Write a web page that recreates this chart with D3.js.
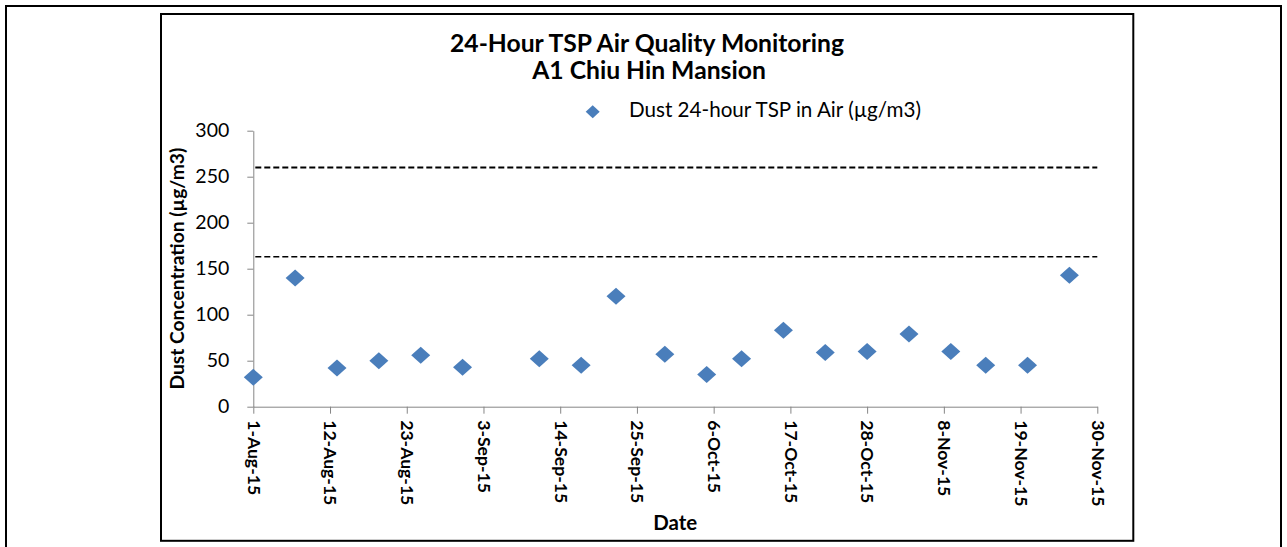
<!DOCTYPE html>
<html><head><meta charset="utf-8">
<script src="https://cdn.jsdelivr.net/npm/d3@7"></script>
<style>
body{margin:0;background:#fff}
svg{display:block}
text{font-family:Lato,"Open Sans",sans-serif;fill:#000}
</style>
</head><body>
<svg id="chart" width="1287" height="547"></svg>
<script>
// ---- data ----
const sampleDates = ["2015-08-01","2015-08-07","2015-08-13","2015-08-19","2015-08-25","2015-08-31",
  "2015-09-11","2015-09-17","2015-09-22","2015-09-29","2015-10-05","2015-10-10","2015-10-16",
  "2015-10-22","2015-10-28","2015-11-03","2015-11-09","2015-11-14","2015-11-20","2015-11-26"];
const tspValues = [32,140,42,50,56,43,52,45,120,57,35,52,83,59,60,79,60,45,45,143];
const xTickDates = ["2015-08-01","2015-08-12","2015-08-23","2015-09-03","2015-09-14","2015-09-25",
  "2015-10-06","2015-10-17","2015-10-28","2015-11-08","2015-11-19","2015-11-30"];
const yTickValues = [0,50,100,150,200,250,300];
const limitLevels = [260,163];
const titleLines = ["24-Hour TSP Air Quality Monitoring","A1 Chiu Hin Mansion"];
const seriesName = "Dust 24-hour TSP in Air (µg/m3)";
const xTitle = "Date";
const yTitle = "Dust Concentration (µg/m3)";

// ---- layout ----
const parse = d3.utcParse("%Y-%m-%d");
const svg = d3.select("#chart");
const plot = {left:253.3, right:1097.3, top:130.7, bottom:406.7};
const blue = "#4A7EBB";
const axisGrey = "#868686";

function fit(sel, target, base){
  sel.style("font-size", base+"px");
  const w = sel.node().getComputedTextLength();
  const s = base*target/w;
  sel.style("font-size", s+"px");
  return s;
}

// borders
svg.append("rect").attr("x",6).attr("y",6).attr("width",1275).attr("height",560)
  .attr("fill","none").attr("stroke","#000").attr("stroke-width",2);
svg.append("rect").attr("x",161).attr("y",14).attr("width",972.3).attr("height",526.8)
  .attr("fill","#fff").attr("stroke","#000").attr("stroke-width",2);

const x = d3.scaleUtc().domain([parse(xTickDates[0]), parse(xTickDates[xTickDates.length-1])])
  .range([plot.left, plot.right]);
const y = d3.scaleLinear().domain([0,300]).range([plot.bottom, plot.top]);

// title
const t1 = svg.append("text").attr("x",647).attr("y",52).attr("text-anchor","middle")
  .style("font-weight","bold").text(titleLines[0]);
const ts = fit(t1, 394, 20);
svg.append("text").attr("x",649).attr("y",79).attr("text-anchor","middle")
  .style("font-weight","bold").style("font-size",ts+"px").text(titleLines[1]);

// legend
svg.append("path").attr("transform","translate(592.7,111.7)")
  .attr("d","M0,-6.5L7,0L0,6.5L-7,0Z").attr("fill",blue);
const lg = svg.append("text").attr("x",629).attr("y",117).text(seriesName);
fit(lg, 292, 16);

// y axis
const yAxis = svg.append("g").attr("transform",`translate(${plot.left},0)`)
  .call(d3.axisLeft(y).tickValues(yTickValues).tickSize(6).tickSizeOuter(0).tickPadding(18));
yAxis.selectAll("path,line").attr("stroke",axisGrey);
yAxis.selectAll("text").style("font-family","Lato,'Open Sans',sans-serif").attr("fill","#000");
{
  const n = yAxis.selectAll("text").filter(d=>d===300);
  const s = fit(n, 34, 16);
  yAxis.selectAll("text").style("font-size", s+"px");
}

// x axis
const fmt = d3.utcFormat("%-d-%b-%y");
const xAxis = svg.append("g").attr("transform",`translate(0,${plot.bottom})`)
  .call(d3.axisBottom(x).tickValues(xTickDates.map(parse)).tickSize(7).tickSizeOuter(0).tickFormat(fmt));
xAxis.selectAll("path,line").attr("stroke",axisGrey);
xAxis.selectAll("text").style("font-family","Lato,'Open Sans',sans-serif").style("font-weight","bold")
  .attr("fill","#000").attr("transform","rotate(90)").attr("x",13.5).attr("y",0).attr("dy","0.35em")
  .attr("text-anchor","start");
{
  const n = xAxis.selectAll("text").filter((d,i)=>i===0);
  const s = fit(n, 75, 15);
  xAxis.selectAll("text").style("font-size", s+"px");
}

// limit lines
svg.selectAll("line.limit").data(limitLevels).enter().append("line").attr("class","limit")
  .attr("x1",plot.left+2).attr("x2",plot.right).attr("y1",d=>y(d)).attr("y2",d=>y(d))
  .attr("stroke","#000").attr("stroke-width",(d,i)=>i===0?1.8:1.4).attr("stroke-dasharray","6,3");

// points
const pts = sampleDates.map((d,i)=>({date:parse(d), v:tspValues[i]}));
svg.selectAll("path.pt").data(pts).enter().append("path").attr("class","pt")
  .attr("transform",d=>`translate(${x(d.date)},${y(d.v)})`)
  .attr("d","M0,-8.5L9.5,0L0,8.5L-9.5,0Z").attr("fill",blue);

// axis titles
const xt = svg.append("text").attr("x",(plot.left+plot.right)/2).attr("y",530).attr("text-anchor","middle")
  .style("font-weight","bold").text(xTitle);
fit(xt, 44, 16);
const yt = svg.append("text").attr("transform",`translate(184,${(plot.top+plot.bottom)/2}) rotate(-90)`)
  .attr("text-anchor","middle").style("font-weight","bold").text(yTitle);
fit(yt, 242, 16);
</script>
</body></html>
